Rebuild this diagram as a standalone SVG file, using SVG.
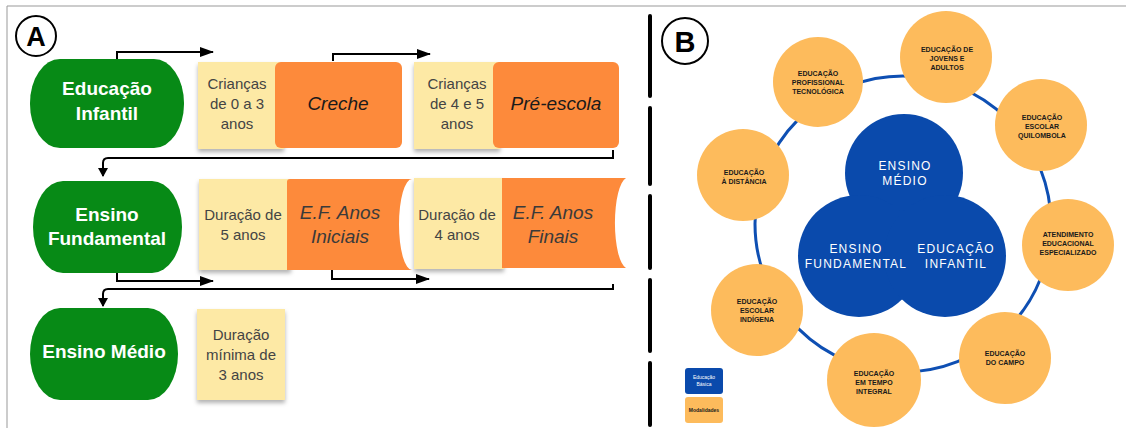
<svg xmlns="http://www.w3.org/2000/svg" width="1126" height="428" viewBox="0 0 1126 428">
<defs>
<style>
.frame{stroke:#999;stroke-width:1;fill:none}
.green{fill:#078a16}
.gt{font-family:"Liberation Sans",Arial,sans-serif;font-weight:bold;font-size:19px;fill:#fff;text-anchor:middle}
.note{fill:#fde9a5}
.nt{font-family:"Liberation Sans",Arial,sans-serif;font-size:15px;fill:#444;text-anchor:middle}
.orange{fill:#fd8a3b}
.ot{font-family:"Liberation Sans",Arial,sans-serif;font-style:italic;font-size:19px;fill:#1a1a1a;text-anchor:middle}
.ot2{font-family:"Liberation Sans",Arial,sans-serif;font-style:italic;font-size:19px;fill:#3a3a3a;text-anchor:middle}
.conn{fill:none;stroke:#000;stroke-width:2}
.lbl{fill:#fff;stroke:#000;stroke-width:2}
.lt{font-family:"Liberation Sans",Arial,sans-serif;font-weight:bold;font-size:27px;fill:#000;text-anchor:middle}
.div{stroke:#000;stroke-width:4;stroke-linecap:round}
.ring{fill:none;stroke:#0e4fb3;stroke-width:3}
.mod{fill:#fdbb5c}
.mt{font-family:"Liberation Sans",Arial,sans-serif;font-weight:bold;font-size:7px;fill:#1a1a1a;text-anchor:middle}
.blue{fill:#0a4aac}
.bt{font-family:"Liberation Sans",Arial,sans-serif;font-size:12px;letter-spacing:1.2px;fill:#fff;text-anchor:middle}
</style>
<filter id="sh" x="-10%" y="-10%" width="125%" height="130%">
<feDropShadow dx="0" dy="3" stdDeviation="2" flood-color="#000" flood-opacity="0.3"/>
</filter>
<marker id="ah" viewBox="0 0 14 10" refX="13" refY="5" markerWidth="14" markerHeight="10" markerUnits="userSpaceOnUse" orient="auto">
<path d="M0,0 L14,5 L0,10 Z" fill="#000"/>
</marker>
<marker id="ad" viewBox="0 0 9 10" refX="8" refY="5" markerWidth="9" markerHeight="10" markerUnits="userSpaceOnUse" orient="auto">
<path d="M0,0 L9,5 L0,10 Z" fill="#000"/>
</marker>
</defs>
<rect width="1126" height="428" fill="#fff"/>
<path class="frame" d="M7,428 V6 H1126"/>

<!-- Panel A -->
<g id="labelA"><circle class="lbl" cx="36" cy="36" r="20"/><text class="lt" x="36" y="46">A</text></g>

<g id="connectors">
<path class="conn" d="M117,59 V52 H213" marker-end="url(#ah)"/>
<path class="conn" d="M333,61 V54 H430" marker-end="url(#ah)"/>
<path class="conn" d="M117,273 V281 H213" marker-end="url(#ah)"/>
<path class="conn" d="M332,270 V279 H429" marker-end="url(#ah)"/>
<path class="conn" d="M613,150 V158 H108 Q103,158 103,163 V176" marker-end="url(#ad)"/>
<path class="conn" d="M613,284 V289 H108 Q103,289 103,294 V306" marker-end="url(#ad)"/>
</g>

<g id="educacao-infantil"><rect class="green" x="30" y="59" width="154" height="89" rx="30" ry="44"/><text class="gt" x="107" y="95">Educação</text><text class="gt" x="107" y="120">Infantil</text></g>
<g id="criancas-0-3"><rect class="note" x="198" y="62" width="86" height="87" filter="url(#sh)"/><text class="nt" x="237" y="89">Crianças</text><text class="nt" x="237" y="109">de 0 a 3</text><text class="nt" x="237" y="129">anos</text></g>
<g id="creche"><rect class="orange" x="275" y="62" width="127" height="86" rx="6"/><text class="ot" x="338" y="110">Creche</text></g>
<g id="criancas-4-5"><rect class="note" x="414" y="62" width="86" height="87" filter="url(#sh)"/><text class="nt" x="457" y="89">Crianças</text><text class="nt" x="457" y="109">de 4 e 5</text><text class="nt" x="457" y="129">anos</text></g>
<g id="pre-escola"><rect class="orange" x="493" y="62" width="126" height="86" rx="6"/><text class="ot" x="556" y="110">Pré-escola</text></g>

<g id="ensino-fundamental"><rect class="green" x="33" y="181" width="149" height="92" rx="30" ry="46"/><text class="gt" x="107" y="221">Ensino</text><text class="gt" x="107" y="245">Fundamental</text></g>
<g id="duracao-5"><rect class="note" x="199" y="179" width="92" height="91" filter="url(#sh)"/><text class="nt" x="243" y="220">Duração de</text><text class="nt" x="243" y="240">5 anos</text></g>
<g id="ef-iniciais"><path class="orange" d="M287,182 Q287,179 290,179 H412 A13,45.5 0 0 0 412,270 H287 Z"/><text class="ot2" x="340" y="219">E.F. Anos</text><text class="ot2" x="340" y="243">Iniciais</text></g>
<g id="duracao-4"><rect class="note" x="414" y="178" width="90" height="91" filter="url(#sh)"/><text class="nt" x="457" y="220">Duração de</text><text class="nt" x="457" y="240">4 anos</text></g>
<g id="ef-finais"><path class="orange" d="M502,178 H626 A13,45.5 0 0 0 626,268 H502 Z"/><text class="ot2" x="553" y="219">E.F. Anos</text><text class="ot2" x="553" y="243">Finais</text></g>

<g id="ensino-medio"><rect class="green" x="30" y="308" width="148" height="92" rx="30" ry="46"/><text class="gt" x="104" y="358">Ensino Médio</text></g>
<g id="duracao-3"><rect class="note" x="197" y="309" width="88" height="91" filter="url(#sh)"/><text class="nt" x="241" y="340">Duração</text><text class="nt" x="241" y="360">mínima de</text><text class="nt" x="241" y="380">3 anos</text></g>

<!-- Divider -->
<g id="divider">
<line class="div" x1="650" y1="16" x2="650" y2="96"/>
<line class="div" x1="650" y1="108" x2="650" y2="184"/>
<line class="div" x1="650" y1="196" x2="650" y2="268"/>
<line class="div" x1="650" y1="280" x2="650" y2="351"/>
<line class="div" x1="650" y1="363" x2="650" y2="425"/>
</g>

<!-- Panel B -->
<g id="labelB"><circle class="lbl" cx="685" cy="41" r="23"/><text class="lt" x="685" y="52" style="font-size:29px">B</text></g>
<g id="ring"><circle class="ring" cx="903" cy="224" r="148"/></g>

<g id="educacao-basica">
<circle class="blue" cx="904" cy="173" r="59"/>
<circle class="blue" cx="859" cy="256" r="61"/>
<circle class="blue" cx="945" cy="256" r="61"/>
<text class="bt" x="905" y="170">ENSINO</text><text class="bt" x="905" y="185">MÉDIO</text>
<text class="bt" x="856" y="253">ENSINO</text><text class="bt" x="856" y="268">FUNDAMENTAL</text>
<text class="bt" x="956" y="253">EDUCAÇÃO</text><text class="bt" x="956" y="268">INFANTIL</text>
</g>

<g id="mod-profissional"><circle class="mod" cx="818" cy="82" r="45"/><text class="mt" x="818" y="76">EDUCAÇÃO</text><text class="mt" x="818" y="85">PROFISSIONAL</text><text class="mt" x="818" y="94">TECNOLÓGICA</text></g>
<g id="mod-jovens"><circle class="mod" cx="946" cy="57" r="46"/><text class="mt" x="947" y="52">EDUCAÇÃO DE</text><text class="mt" x="947" y="61">JOVENS E</text><text class="mt" x="947" y="70">ADULTOS</text></g>
<g id="mod-quilombola"><circle class="mod" cx="1041" cy="125" r="46"/><text class="mt" x="1042" y="120">EDUCAÇÃO</text><text class="mt" x="1042" y="129">ESCOLAR</text><text class="mt" x="1042" y="138">QUILOMBOLA</text></g>
<g id="mod-atendimento"><circle class="mod" cx="1068" cy="245" r="46"/><text class="mt" x="1068" y="237">ATENDIMENTO</text><text class="mt" x="1068" y="246">EDUCACIONAL</text><text class="mt" x="1068" y="255">ESPECIALIZADO</text></g>
<g id="mod-campo"><circle class="mod" cx="1005" cy="358" r="46"/><text class="mt" x="1005" y="356">EDUCAÇÃO</text><text class="mt" x="1005" y="365">DO CAMPO</text></g>
<g id="mod-integral"><circle class="mod" cx="874" cy="380" r="47"/><text class="mt" x="874" y="376">EDUCAÇÃO</text><text class="mt" x="874" y="385">EM TEMPO</text><text class="mt" x="874" y="394">INTEGRAL</text></g>
<g id="mod-indigena"><circle class="mod" cx="757" cy="310" r="46"/><text class="mt" x="757" y="304">EDUCAÇÃO</text><text class="mt" x="757" y="313">ESCOLAR</text><text class="mt" x="757" y="322">INDÍGENA</text></g>
<g id="mod-distancia"><circle class="mod" cx="743" cy="175" r="46"/><text class="mt" x="744" y="175">EDUCAÇÃO</text><text class="mt" x="744" y="184">À DISTÂNCIA</text></g>

<g id="legend">
<rect class="blue" x="685" y="368" width="38" height="26" rx="3"/>
<text x="704" y="379" font-family="Liberation Sans, Arial, sans-serif" font-size="5" fill="#fff" text-anchor="middle">Educação</text>
<text x="704" y="386" font-family="Liberation Sans, Arial, sans-serif" font-size="5" fill="#fff" text-anchor="middle">Básica</text>
<rect class="mod" x="685" y="397" width="38" height="26" rx="3"/>
<text x="704" y="412" font-family="Liberation Sans, Arial, sans-serif" font-size="5" font-weight="bold" fill="#1a1a1a" text-anchor="middle">Modalidades</text>
</g>
</svg>
